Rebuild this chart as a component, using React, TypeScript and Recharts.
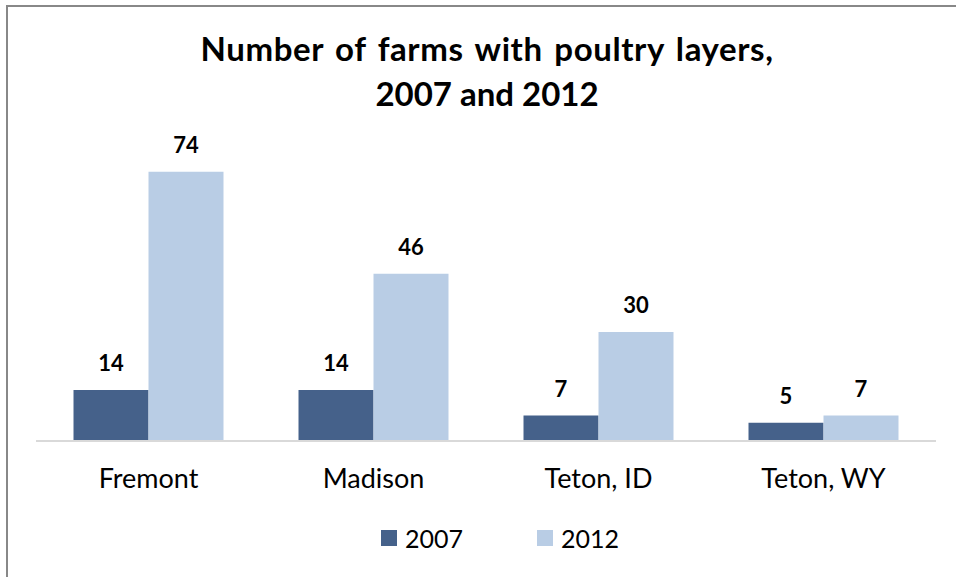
import React from 'react'
import { BarChart, Bar, XAxis, YAxis, Legend, LabelList } from 'recharts'

// farms with poultry layers, by county
const counties = ['Fremont', 'Madison', 'Teton, ID', 'Teton, WY']
const farms2007 = [14, 14, 7, 5]
const farms2012 = [74, 46, 30, 7]
const titleLines = ['Number of farms with poultry layers,', '2007 and 2012']

const COLOR_2007 = '#45618A'
const COLOR_2012 = '#B9CDE5'
const FONT = 'Lato, "Open Sans", sans-serif'

const chartData = counties.map((county, i) => ({
  county,
  y2007: farms2007[i],
  y2012: farms2012[i],
}))

function ValueLabel(props: any) {
  const { x, y, width, value } = props
  return (
    <text
      x={x + width / 2}
      y={y - 19}
      textAnchor="middle"
      fontFamily={FONT}
      fontWeight={700}
      fontSize={22}
      fill="#000"
    >
      {value}
    </text>
  )
}

function CountyTick(props: any) {
  const { x, y, payload } = props
  return (
    <text x={x} y={y} dy={39} textAnchor="middle" fontFamily={FONT} fontSize={27} fill="#000">
      {payload.value}
    </text>
  )
}

function YearLegend(props: any) {
  const items = props.payload || []
  return (
    <div style={{ display: 'flex', alignItems: 'center', fontFamily: FONT, fontSize: 25, color: '#000' }}>
      {items.map((item: any, i: number) => (
        <div key={item.value} style={{ display: 'flex', alignItems: 'center', marginLeft: i === 0 ? 0 : 74 }}>
          <span style={{ display: 'inline-block', width: 16, height: 16, background: item.color, marginRight: 8 }} />
          <span>{item.value}</span>
        </div>
      ))}
    </div>
  )
}

export default function App() {
  return (
    <div
      style={{
        position: 'fixed',
        left: 0,
        top: 0,
        width: 956,
        height: 577,
        overflow: 'hidden',
        background: '#fff',
      }}
    >
      {/* chart frame, runs past the right and bottom edges */}
      <div
        style={{
          position: 'absolute',
          left: 6,
          top: 5,
          width: 1000,
          height: 700,
          border: '2px solid #888',
          boxSizing: 'border-box',
        }}
      />
      <svg width={956} height={577} style={{ position: 'absolute', left: 0, top: 0 }}>
        {titleLines.map((line, i) => (
          <text
            key={line}
            x={487}
            y={61 + i * 45}
            textAnchor="middle"
            fontFamily={FONT}
            fontWeight={700}
            fontSize={33}
            letterSpacing={i === 0 ? 0.6 : 0}
            wordSpacing={i === 0 ? 3 : 0}
            fill="#000"
          >
            {line}
          </text>
        ))}
      </svg>
      <div style={{ position: 'absolute', left: 0, top: 0 }}>
        <BarChart
          width={956}
          height={577}
          data={chartData}
          margin={{ top: 150, right: 20, left: 36, bottom: 0 }}
          barCategoryGap="16.67%"
          barGap={0}
        >
          <XAxis
            dataKey="county"
            height={74}
            axisLine={{ stroke: '#D9D9D9', strokeWidth: 2 }}
            tickLine={false}
            tick={<CountyTick />}
            interval={0}
          />
          <YAxis hide domain={[0, 80]} />
          <Legend
            verticalAlign="bottom"
            height={62}
            content={<YearLegend />}
            wrapperStyle={{ left: 381, top: 523, width: 'auto' }}
          />
          <Bar dataKey="y2007" name="2007" fill={COLOR_2007} isAnimationActive={false}>
            <LabelList dataKey="y2007" content={<ValueLabel />} />
          </Bar>
          <Bar dataKey="y2012" name="2012" fill={COLOR_2012} isAnimationActive={false}>
            <LabelList dataKey="y2012" content={<ValueLabel />} />
          </Bar>
        </BarChart>
      </div>
    </div>
  )
}
